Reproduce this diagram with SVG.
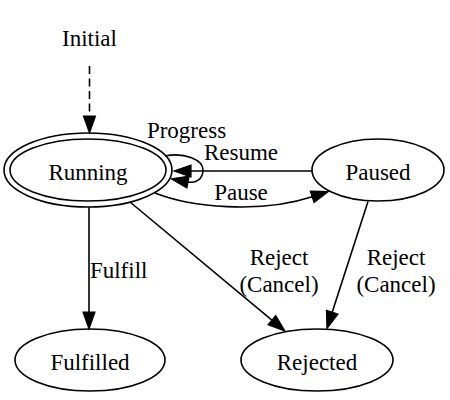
<svg xmlns="http://www.w3.org/2000/svg" width="450" height="400" viewBox="0 0 450 400">
<defs>
<style>
text{font-size:23px;fill:#000;text-anchor:middle}
.node ellipse{fill:none;stroke:#000;stroke-width:1.6}
.edge path,.edge line{fill:none;stroke:#000;stroke-width:1.6}
.dashed{stroke-dasharray:8,4.5}
</style>
<marker id="arr" markerUnits="userSpaceOnUse" viewBox="0 -7 18 14" refX="0" refY="0" markerWidth="18" markerHeight="14" orient="auto" overflow="visible">
<path d="M0,-6 L17,0 L0,6 z" fill="#000" stroke="#000" stroke-width="1.2"/>
</marker>
</defs>
<rect width="450" height="400" fill="#fff"/>
<g font-family="'Liberation Serif', 'DejaVu Serif', serif">
<g id="Initial" class="node"><text x="89.5" y="46">Initial</text></g>
<g id="Running" class="node">
<ellipse cx="88" cy="170" rx="78" ry="31"/>
<ellipse cx="88" cy="170" rx="84" ry="37"/>
<text x="88" y="180">Running</text>
</g>
<g id="Paused" class="node"><ellipse cx="378" cy="170" rx="66" ry="31"/><text x="378" y="180">Paused</text></g>
<g id="Fulfilled" class="node"><ellipse cx="90" cy="360" rx="75" ry="31"/><text x="90" y="370">Fulfilled</text></g>
<g id="Rejected" class="node"><ellipse cx="317" cy="360" rx="76" ry="31"/><text x="317" y="370">Rejected</text></g>
<g id="edges" class="edge">
<line class="dashed" x1="89.5" y1="66" x2="89.5" y2="116" marker-end="url(#arr)"/>
<path d="M165,156 C185,152 203,160 203,170 C203,179 196,183.5 188,182" marker-end="url(#arr)"/>
<text x="186.5" y="138">Progress</text>
<line x1="312" y1="171" x2="191" y2="171" marker-end="url(#arr)"/>
<text x="241" y="160">Resume</text>
<path d="M155,193 C190,207 260,214 312.2,196.8" marker-end="url(#arr)"/>
<text x="241" y="200">Pause</text>
<line x1="89" y1="207" x2="89" y2="312" marker-end="url(#arr)"/>
<text x="118.7" y="278">Fulfill</text>
<line x1="130" y1="202" x2="271.9" y2="320.1" marker-end="url(#arr)"/>
<text x="279" y="265">Reject</text>
<text x="279" y="292">(Cancel)</text>
<line x1="368" y1="201.5" x2="332.2" y2="312.3" marker-end="url(#arr)"/>
<text x="396" y="265">Reject</text>
<text x="396" y="292">(Cancel)</text>
</g>
</g>
</svg>
